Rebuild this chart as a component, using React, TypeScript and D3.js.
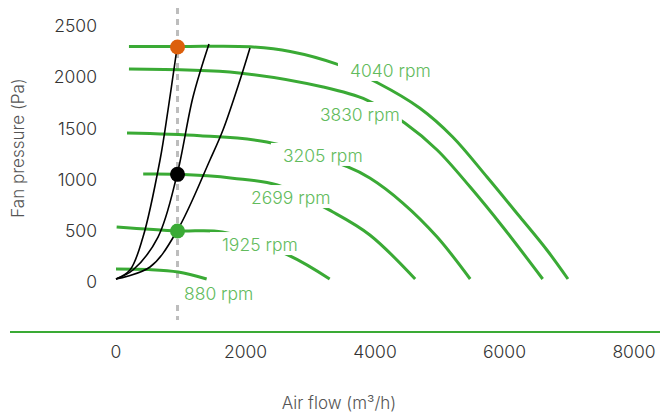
import React, { useEffect, useRef } from 'react';
import * as d3 from 'd3';

// fan curves (air flow m³/h, pressure Pa)
const rpm4040 = [[200, 2270], [1000, 2270], [2070, 2268], [2690, 2222], [3400, 2100], [4045, 1914], [4690, 1670], [5200, 1387], [5730, 996], [6240, 605], [6655, 283], [6980, 0]];
const rpm3830 = [[200, 2050], [1900, 2012], [3200, 1875], [3875, 1748], [4460, 1523], [4960, 1260], [5470, 898], [5975, 508], [6590, 0]];
const rpm3205 = [[170, 1426], [1300, 1400], [2330, 1338], [3580, 1094], [3920, 986], [4430, 742], [4960, 410], [5470, 0]];
const rpm2699 = [[420, 1025], [960, 1022], [1800, 985], [2490, 918], [3350, 654], [3920, 430], [4620, 0]];
const rpm1925 = [[10, 508], [960, 469], [1640, 459], [2660, 234], [3300, 0]];
const rpm880 = [[0, 98], [500, 92], [960, 68], [1400, 0]];

const fanCurves = [rpm4040, rpm3830, rpm3205, rpm2699, rpm1925, rpm880];

// system curves
const system1 = [[0, 0], [216, 88], [417, 410], [680, 1162], [803, 1650], [930, 2200]];
const system2 = [[0, 0], [262, 88], [649, 410], [942, 1016], [1189, 1777], [1436, 2295]];
const system3 = [[0, 0], [525, 117], [942, 469], [1451, 1162], [1652, 1455], [1915, 1943], [2069, 2256]];
const systemCurves = [system1, system2, system3];

const rpmLabels = ['4040 rpm', '3830 rpm', '3205 rpm', '2699 rpm', '1925 rpm', '880 rpm'];
const rpmLabelAt = [[3613, 1973], [3150, 1543], [2578, 1143], [2084, 732], [1637, 273], [1050, -205]];

const operatingFlow = 950;
const operatingPoints = [2266, 1022, 469];
const pointColors = ['#dc5f0c', '#000000', '#3aaa35'];

const xTicks = [0, 2000, 4000, 6000, 8000];
const yTicks = [0, 500, 1000, 1500, 2000, 2500];

const GREEN = '#3aaa35';
const LABEL_GREEN = '#62bb5c';
const FONT = "Inter, 'Open Sans', sans-serif";

export default function App() {
  const svgRef = useRef<SVGSVGElement>(null);

  useEffect(() => {
    if (!svgRef.current) return;
    const width = 660;
    const height = 416;
    const svg = d3.select(svgRef.current);
    svg.selectAll('*').remove();
    svg.attr('width', width).attr('height', height);

    const x = d3.scaleLinear().domain([0, 8000]).range([116, 634]);
    const y = d3.scaleLinear().domain([0, 2500]).range([279, 23]);

    const line = d3
      .line<number[]>()
      .x((d) => x(d[0]))
      .y((d) => y(d[1]))
      .curve(d3.curveCatmullRom.alpha(0.5));

    // dashed operating flow line
    svg
      .append('line')
      .attr('x1', x(operatingFlow))
      .attr('x2', x(operatingFlow))
      .attr('y1', 8)
      .attr('y2', 320)
      .attr('stroke', '#bdbdbd')
      .attr('stroke-width', 3)
      .attr('stroke-dasharray', '6 5');

    // fan curves
    svg
      .selectAll('.fan')
      .data(fanCurves)
      .join('path')
      .attr('class', 'fan')
      .attr('d', (d) => line(d))
      .attr('fill', 'none')
      .attr('stroke', GREEN)
      .attr('stroke-width', 3);

    // rpm labels with white backing boxes
    const labels = svg
      .selectAll('.rpm')
      .data(rpmLabels)
      .join('g')
      .attr('class', 'rpm');
    const texts = labels
      .append('text')
      .attr('x', (_, i) => x(rpmLabelAt[i][0]))
      .attr('y', (_, i) => y(rpmLabelAt[i][1]))
      .attr('fill', LABEL_GREEN)
      .attr('font-family', FONT)
      .attr('font-weight', 300)
      .attr('font-size', '17.5px')
      .text((d) => d);
    texts.each(function () {
      const b = (this as SVGTextElement).getBBox();
      d3.select((this as SVGTextElement).parentNode as SVGGElement)
        .insert('rect', 'text')
        .attr('x', b.x - 12)
        .attr('y', b.y - 2)
        .attr('width', b.width + 14)
        .attr('height', b.height + 2)
        .attr('fill', '#fff');
    });

    // system curves
    svg
      .selectAll('.sys')
      .data(systemCurves)
      .join('path')
      .attr('class', 'sys')
      .attr('d', (d) => line(d))
      .attr('fill', 'none')
      .attr('stroke', '#000')
      .attr('stroke-width', 1.6);

    // operating points
    svg
      .selectAll('.pt')
      .data(operatingPoints)
      .join('circle')
      .attr('class', 'pt')
      .attr('cx', x(operatingFlow))
      .attr('cy', (d) => y(d))
      .attr('r', 7.5)
      .attr('fill', (_, i) => pointColors[i]);

    // baseline
    svg
      .append('line')
      .attr('x1', 10)
      .attr('x2', width)
      .attr('y1', 332)
      .attr('y2', 332)
      .attr('stroke', GREEN)
      .attr('stroke-width', 2);

    // tick labels
    svg
      .selectAll('.ytick')
      .data(yTicks)
      .join('text')
      .attr('class', 'ytick')
      .attr('x', 97)
      .attr('y', (d) => y(d) + 3)
      .attr('dy', '0.35em')
      .attr('text-anchor', 'end')
      .attr('fill', '#333')
      .attr('font-family', FONT)
      .attr('font-weight', 300)
      .attr('font-size', '17.5px')
      .text((d) => d);

    svg
      .selectAll('.xtick')
      .data(xTicks)
      .join('text')
      .attr('class', 'xtick')
      .attr('x', (d) => x(d))
      .attr('y', 352)
      .attr('dy', '0.35em')
      .attr('text-anchor', 'middle')
      .attr('fill', '#333')
      .attr('font-family', FONT)
      .attr('font-weight', 300)
      .attr('font-size', '17.5px')
      .text((d) => d);

    // axis titles
    svg
      .append('text')
      .attr('transform', 'translate(18,148) rotate(-90)')
      .attr('dy', '0.35em')
      .attr('text-anchor', 'middle')
      .attr('fill', '#555')
      .attr('font-family', FONT)
      .attr('font-weight', 300)
      .attr('font-size', '17px')
      .text('Fan pressure (Pa)');

    svg
      .append('text')
      .attr('x', 339)
      .attr('y', 403)
      .attr('dy', '0.35em')
      .attr('text-anchor', 'middle')
      .attr('fill', '#555')
      .attr('font-family', FONT)
      .attr('font-weight', 300)
      .attr('font-size', '17px')
      .text('Air flow (m³/h)');
  }, []);

  return (
    <div style={{ position: 'absolute', left: 0, top: 0, width: 660, height: 416, background: '#fff' }}>
      <svg ref={svgRef} style={{ display: 'block' }} />
    </div>
  );
}
